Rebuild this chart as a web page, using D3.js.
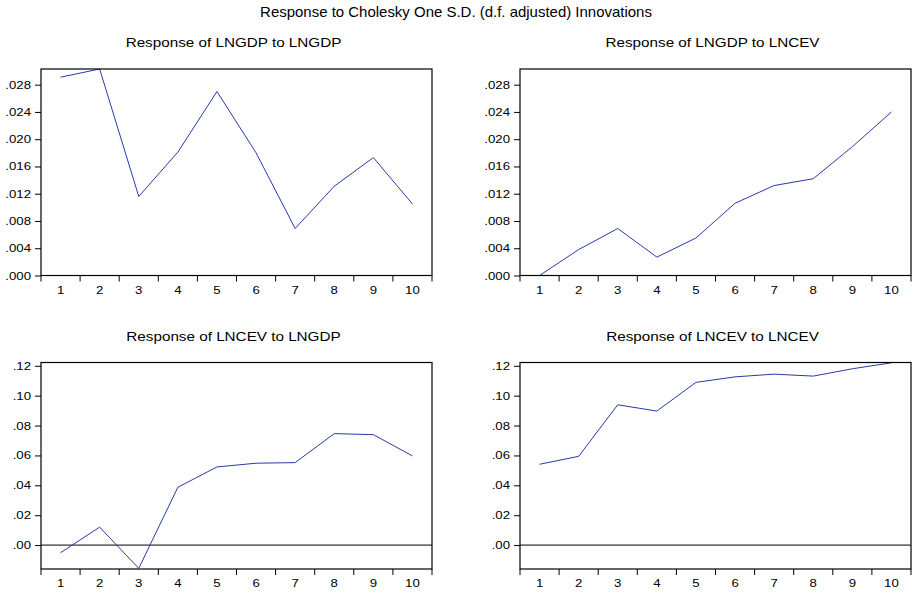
<!DOCTYPE html>
<html>
<head>
<meta charset="utf-8">
<script src="https://cdn.jsdelivr.net/npm/d3@7"></script>
<style>
  body { margin: 0; background: #fff; }
  text { font-family: "Liberation Sans", Arial, sans-serif; fill: #000; }
</style>
</head>
<body>
<svg id="chart" width="912" height="592"></svg>
<script>
// periods on the x axis
var periods = [1, 2, 3, 4, 5, 6, 7, 8, 9, 10];

// impulse responses
var gdp_to_gdp   = [0.0291, 0.0303, 0.0116, 0.0181, 0.0270, 0.0180, 0.0069, 0.0131, 0.0173, 0.0105];
var gdp_to_cev   = [0.0000, 0.0038, 0.0069, 0.0027, 0.0055, 0.0106, 0.0132, 0.0142, 0.0189, 0.0240];
var cev_to_gdp   = [-0.0051, 0.0120, -0.0156, 0.0387, 0.0523, 0.0548, 0.0552, 0.0746, 0.0739, 0.0597];
var cev_to_cev   = [0.0541, 0.0594, 0.0939, 0.0897, 0.1089, 0.1126, 0.1144, 0.1131, 0.1180, 0.1220];

// y tick values for each row
var row1_ticks = [0, 0.004, 0.008, 0.012, 0.016, 0.020, 0.024, 0.028];
var row2_ticks = [0, 0.02, 0.04, 0.06, 0.08, 0.10, 0.12];
var row1_domain = [0, 0.0303];
var row2_domain = [-0.0160, 0.1222];

var panel_titles = ["Response of LNGDP to LNGDP", "Response of LNGDP to LNCEV",
                    "Response of LNCEV to LNGDP", "Response of LNCEV to LNCEV"];
var main_title = "Response to Cholesky One S.D. (d.f. adjusted) Innovations";

var line_color = "#2a3aa6";
var svg = d3.select("#chart");

// the picture's text is a little wider than normal, so stretch it sideways
function stretched(sel, x, y, size, sx, anchor, str) {
  return sel.append("text")
            .attr("transform", "translate(" + x + "," + y + ") scale(" + sx + ",1)")
            .attr("text-anchor", anchor)
            .style("font-size", size + "px")
            .text(str);
}

stretched(svg, 456, 17, 14, 1.07, "middle", main_title);

var w_plot = 391, h_plot = 206.5;
var panels = [
  { left: 41,  top: 69,    vals: gdp_to_gdp, ticks: row1_ticks, domain: row1_domain, fmt: ".3f", zero: false },
  { left: 520, top: 69,    vals: gdp_to_cev, ticks: row1_ticks, domain: row1_domain, fmt: ".3f", zero: false },
  { left: 41,  top: 362.5, vals: cev_to_gdp, ticks: row2_ticks, domain: row2_domain, fmt: ".2f", zero: true },
  { left: 520, top: 362.5, vals: cev_to_cev, ticks: row2_ticks, domain: row2_domain, fmt: ".2f", zero: true }
];

panels.forEach(function(p, i) {
  var g = svg.append("g")
             .attr("transform", "translate(" + p.left + "," + p.top + ")");

  var x = d3.scaleBand()
            .domain(periods)
            .range([0, w_plot]);
  var y = d3.scaleLinear()
            .domain(p.domain)
            .range([h_plot, 0]);

  // panel title
  stretched(g, w_plot / 2 - 3, -22, 13.5, 1.13, "middle", panel_titles[i]);

  // zero line
  if (p.zero) {
    g.append("line")
     .attr("x1", 0).attr("x2", w_plot)
     .attr("y1", y(0)).attr("y2", y(0))
     .attr("stroke", "#000")
     .attr("stroke-width", 1);
  }

  // response line
  var line = d3.line()
               .x(function(d, j) { return x(periods[j]) + x.bandwidth() / 2; })
               .y(function(d) { return y(d); });
  g.append("path")
   .datum(p.vals)
   .attr("d", line)
   .attr("fill", "none")
   .attr("stroke", line_color)
   .attr("stroke-width", 1);

  // frame
  g.append("rect")
   .attr("x", 0).attr("y", 0)
   .attr("width", w_plot).attr("height", h_plot)
   .attr("fill", "none")
   .attr("stroke", "#000")
   .attr("stroke-width", 1.2);

  // y axis: ticks through d3, labels drawn stretched
  var fmt = d3.format(p.fmt);
  var y_axis = d3.axisLeft(y)
                 .tickValues(p.ticks)
                 .tickSize(6)
                 .tickFormat("");
  var ya = g.append("g").call(y_axis);
  ya.select(".domain").remove();
  p.ticks.forEach(function(t) {
    stretched(g, -10, y(t) + 4, 11.5, 1.15, "end", fmt(t).replace(/^0/, ""));
  });

  // x axis: ticks on band edges, labels at band centres
  var edges = periods.map(function(d) { return x(d); }).concat([w_plot]);
  g.selectAll(".xtick")
   .data(edges)
   .enter().append("line")
   .attr("x1", function(d) { return d; })
   .attr("x2", function(d) { return d; })
   .attr("y1", h_plot)
   .attr("y2", h_plot + 6)
   .attr("stroke", "#000");
  periods.forEach(function(d) {
    stretched(g, x(d) + x.bandwidth() / 2, h_plot + 18, 11.5, 1.15, "middle", d);
  });
});
</script>
</body>
</html>
